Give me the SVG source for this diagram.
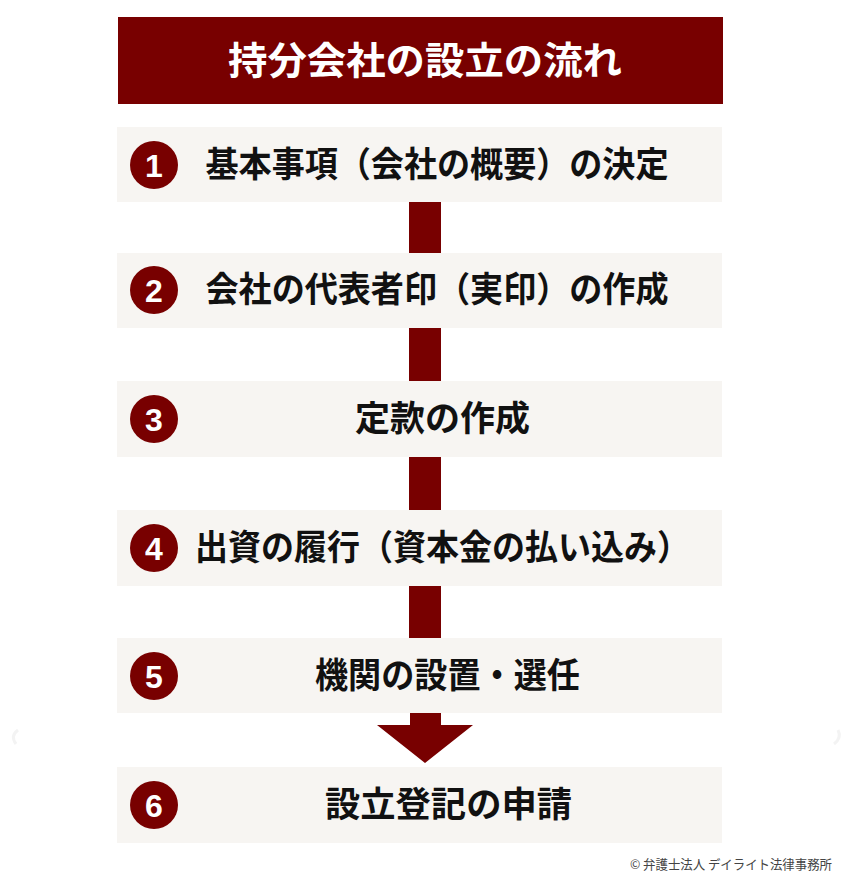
<svg xmlns="http://www.w3.org/2000/svg" width="850" height="885" viewBox="0 0 850 885">
<style>
.box{fill:#f7f5f2}
.red{fill:#780000}
.lbl{font-family:"Noto Sans CJK JP","Noto Sans",sans-serif;font-weight:bold;font-size:35px;fill:#111;text-anchor:middle}
.num{font-family:"Liberation Sans","Noto Sans",sans-serif;font-weight:bold;font-size:32px;fill:#fff;text-anchor:middle}
.title{font-family:"Noto Sans CJK JP","Noto Sans",sans-serif;font-weight:bold;font-size:38px;fill:#fff;text-anchor:middle}
.copy{font-family:"Noto Sans CJK JP","Noto Sans",sans-serif;font-size:13px;fill:#444}
</style>
<rect width="850" height="885" fill="#fff"/>
<path d="M18 730 Q10 736 16 744" fill="none" stroke="#f3f3f3" stroke-width="3"/>
<path d="M834 744 Q842 738 838 730" fill="none" stroke="#f3f3f3" stroke-width="3"/>
<g id="title">
<rect class="red" x="118" y="17" width="605" height="87"/>
<text class="title" x="425" y="74" textLength="394" lengthAdjust="spacingAndGlyphs">持分会社の設立の流れ</text>
</g>
<g id="connectors">
<rect class="red" x="409" y="202" width="32" height="51"/>
<rect class="red" x="409" y="328" width="32" height="53"/>
<rect class="red" x="409" y="457" width="32" height="53"/>
<rect class="red" x="409" y="586" width="32" height="52"/>
<path class="red" d="M410 713 H441 V725 H473 L425 763 L377 725 H410 Z"/>
</g>
<g id="step1">
<rect class="box" x="117" y="127" width="605" height="75"/>
<circle class="red" cx="154" cy="165" r="24"/>
<text class="num" x="154" y="176.5">1</text>
<text class="lbl" x="437" y="177" textLength="463" lengthAdjust="spacingAndGlyphs">基本事項（会社の概要）の決定</text>
</g>
<g id="step2">
<rect class="box" x="117" y="253" width="605" height="75"/>
<circle class="red" cx="154" cy="290" r="24"/>
<text class="num" x="154" y="301.5">2</text>
<text class="lbl" x="437" y="302" textLength="463" lengthAdjust="spacingAndGlyphs">会社の代表者印（実印）の作成</text>
</g>
<g id="step3">
<rect class="box" x="117" y="381" width="605" height="76"/>
<circle class="red" cx="154" cy="419" r="24"/>
<text class="num" x="154" y="430.5">3</text>
<text class="lbl" x="442.5" y="431" textLength="175" lengthAdjust="spacingAndGlyphs">定款の作成</text>
</g>
<g id="step4">
<rect class="box" x="117" y="510" width="605" height="76"/>
<circle class="red" cx="154" cy="548" r="24"/>
<text class="num" x="154" y="559.5">4</text>
<text class="lbl" x="442.5" y="560" textLength="495" lengthAdjust="spacingAndGlyphs">出資の履行（資本金の払い込み）</text>
</g>
<g id="step5">
<rect class="box" x="117" y="638" width="605" height="75"/>
<circle class="red" cx="154" cy="676" r="24"/>
<text class="num" x="154" y="687.5">5</text>
<text class="lbl" x="447.5" y="688" textLength="265" lengthAdjust="spacingAndGlyphs">機関の設置・選任</text>
</g>
<g id="step6">
<rect class="box" x="117" y="767" width="605" height="76"/>
<circle class="red" cx="154" cy="805" r="24"/>
<text class="num" x="154" y="816.5">6</text>
<text class="lbl" x="448.5" y="817" textLength="247" lengthAdjust="spacingAndGlyphs">設立登記の申請</text>
</g>
<text class="copy" x="630" y="869" textLength="202" lengthAdjust="spacingAndGlyphs">© 弁護士法人 デイライト法律事務所</text>
</svg>
